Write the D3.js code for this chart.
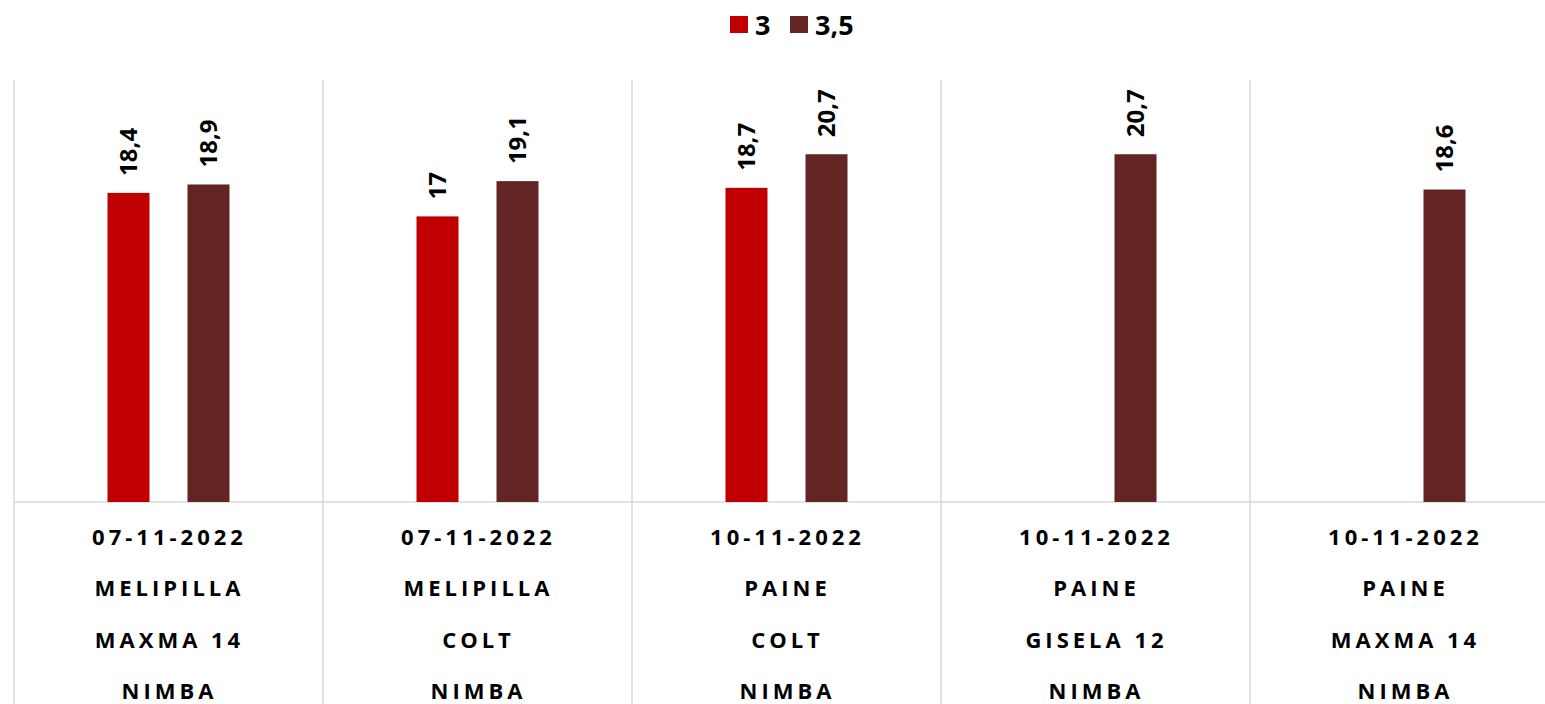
<!DOCTYPE html>
<html>
<head>
<meta charset="utf-8">
<script src="https://cdn.jsdelivr.net/npm/d3@7"></script>
<style>
  html, body { margin: 0; padding: 0; background: #ffffff; }
  svg { display: block; font-family: "Open Sans", "Liberation Sans", sans-serif; }
</style>
</head>
<body>
<svg id="chart" width="1545" height="704"></svg>
<script>
// ---- data ----
const dates     = ["07-11-2022", "07-11-2022", "10-11-2022", "10-11-2022", "10-11-2022"];
const locations = ["MELIPILLA", "MELIPILLA", "PAINE", "PAINE", "PAINE"];
const varieties = ["MAXMA 14", "COLT", "COLT", "GISELA 12", "MAXMA 14"];
const cultivars = ["NIMBA", "NIMBA", "NIMBA", "NIMBA", "NIMBA"];
const seriesNames = ["3", "3,5"];
const series3   = [18.4, 17, 18.7, null, null];
const series35  = [18.9, 19.1, 20.7, 20.7, 18.6];
const colors    = ["#c00000", "#632523"];

(function () {
const seriesValues = [series3, series35];
const cats = dates.map((d, i) => i);

const svg = d3.select("#chart");
const W = 1545, H = 704;
const plotLeft = 14, plotRight = 1559, plotTop = 82, base = 502;

const x0 = d3.scaleBand().domain(cats).range([plotLeft, plotRight]).padding(0);
const step = x0.bandwidth();
const x1 = d3.scaleBand().domain(seriesNames).range([0, step])
  .paddingInner(0.475).paddingOuter(1.16875);
const y = d3.scaleLinear().domain([0, 25]).range([base, plotTop]);

const grid = "#d9d9d9";

// vertical separators
svg.append("g").selectAll("line")
  .data(cats.concat([cats.length]))
  .join("line")
  .attr("x1", d => plotLeft + d * step).attr("x2", d => plotLeft + d * step)
  .attr("y1", 80).attr("y2", H)
  .attr("stroke", grid).attr("stroke-width", 1.5);

// baseline
svg.append("line")
  .attr("x1", plotLeft).attr("x2", W).attr("y1", base).attr("y2", base)
  .attr("stroke", grid).attr("stroke-width", 1.5);

// bars
const groups = svg.append("g").selectAll("g")
  .data(cats).join("g")
  .attr("transform", d => `translate(${x0(d)},0)`);

groups.each(function(ci) {
  const g = d3.select(this);
  seriesNames.forEach((s, si) => {
    const v = seriesValues[si][ci];
    if (v == null) return;
    g.append("rect")
      .attr("x", x1(s)).attr("width", x1.bandwidth())
      .attr("y", y(v)).attr("height", y(0) - y(v))
      .attr("fill", colors[si]);
    const cx = x1(s) + x1.bandwidth() / 2;
    g.append("text")
      .attr("transform", `translate(${cx},${y(v) - 17}) rotate(-90)`)
      .attr("dy", "0.36em")
      .attr("text-anchor", "start")
      .attr("font-size", 24).attr("font-weight", 700)
      .attr("fill", "#000")
      .text(String(v).replace(".", ","));
  });
});

// category labels (multi-level)
const levels = [dates, locations, varieties, cultivars];
const levelY = [537, 588, 640, 691];
levels.forEach((arr, li) => {
  svg.append("g").selectAll("text")
    .data(cats).join("text")
    .attr("x", d => x0(d) + step / 2 + 1)
    .attr("y", levelY[li])
    .attr("dy", "0.36em")
    .attr("text-anchor", "middle")
    .attr("font-size", 22).attr("font-weight", 700)
    .attr("letter-spacing", 4)
    .attr("fill", "#000")
    .text(d => arr[d]);
});

// legend
const legend = svg.append("g");
const legX = [730, 790];
seriesNames.forEach((s, i) => {
  legend.append("rect")
    .attr("x", legX[i]).attr("y", 16).attr("width", 18).attr("height", 17)
    .attr("fill", colors[i]);
  legend.append("text")
    .attr("x", legX[i] + 25).attr("y", 25).attr("dy", "0.36em")
    .attr("font-size", 27).attr("font-weight", 700).attr("fill", "#000")
    .text(s);
});
})();
</script>
</body>
</html>
